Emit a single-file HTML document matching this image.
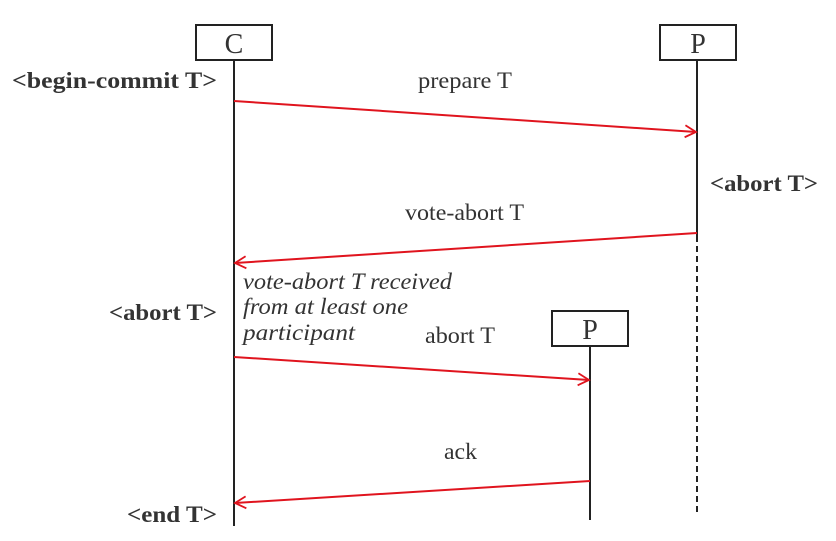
<!DOCTYPE html>
<html><head><meta charset="utf-8"><style>
html,body{margin:0;padding:0;background:#fff;}
svg{display:block;}
text{font-family:"Liberation Serif",serif;fill:#333;}
</style></head><body>
<svg width="836" height="541" viewBox="0 0 836 541">
<defs>
<marker id="ah" markerWidth="14" markerHeight="14" refX="12" refY="7" orient="auto" markerUnits="userSpaceOnUse">
<path d="M1,1 L12,7 L1,13" fill="none" stroke="#e0141e" stroke-width="1.8"/>
</marker>
</defs>
<line x1="234" y1="61" x2="234" y2="526" stroke="#222" stroke-width="2"/>
<line x1="697" y1="61" x2="697" y2="236" stroke="#222" stroke-width="2"/>
<line x1="697" y1="236" x2="697" y2="515" stroke="#222" stroke-width="2" stroke-dasharray="6,4"/>
<line x1="590" y1="347" x2="590" y2="520" stroke="#222" stroke-width="2"/>
<g>
<rect x="196" y="25" width="76" height="35" fill="#fff" stroke="#222" stroke-width="2"/>
<text x="234" y="53" font-size="28" text-anchor="middle">C</text></g>
<g>
<rect x="660" y="25" width="76" height="35" fill="#fff" stroke="#222" stroke-width="2"/>
<text x="698" y="53" font-size="28" text-anchor="middle">P</text></g>
<g>
<rect x="552" y="311" width="76" height="35" fill="#fff" stroke="#222" stroke-width="2"/>
<text x="590" y="339" font-size="28" text-anchor="middle">P</text></g>
<line x1="234" y1="101" x2="696" y2="132" stroke="#e0141e" stroke-width="2" marker-end="url(#ah)"/>
<text x="418" y="88" font-size="23" textLength="94" lengthAdjust="spacingAndGlyphs">prepare T</text>
<line x1="697" y1="233" x2="235" y2="263" stroke="#e0141e" stroke-width="2" marker-end="url(#ah)"/>
<text x="405" y="220" font-size="23" textLength="119" lengthAdjust="spacingAndGlyphs">vote-abort T</text>
<line x1="234" y1="357" x2="589" y2="380" stroke="#e0141e" stroke-width="2" marker-end="url(#ah)"/>
<text x="425" y="343" font-size="23" textLength="70" lengthAdjust="spacingAndGlyphs">abort T</text>
<line x1="590" y1="481" x2="235" y2="503" stroke="#e0141e" stroke-width="2" marker-end="url(#ah)"/>
<text x="444" y="459" font-size="23" textLength="33" lengthAdjust="spacingAndGlyphs">ack</text>
<text x="12" y="88" font-size="23" font-weight="bold" textLength="205" lengthAdjust="spacingAndGlyphs">&lt;begin-commit T&gt;</text>
<text x="710" y="191" font-size="23" font-weight="bold" textLength="108" lengthAdjust="spacingAndGlyphs">&lt;abort T&gt;</text>
<text x="109" y="320" font-size="23" font-weight="bold" textLength="108" lengthAdjust="spacingAndGlyphs">&lt;abort T&gt;</text>
<text x="127" y="522" font-size="23" font-weight="bold" textLength="90" lengthAdjust="spacingAndGlyphs">&lt;end T&gt;</text>
<g font-style="italic" font-size="23">
<text x="243" y="289" textLength="209" lengthAdjust="spacingAndGlyphs">vote-abort T received</text>
<text x="243" y="314" textLength="165" lengthAdjust="spacingAndGlyphs">from at least one</text>
<text x="243" y="340" textLength="112" lengthAdjust="spacingAndGlyphs">participant</text>
</g>
</svg>
</body></html>
